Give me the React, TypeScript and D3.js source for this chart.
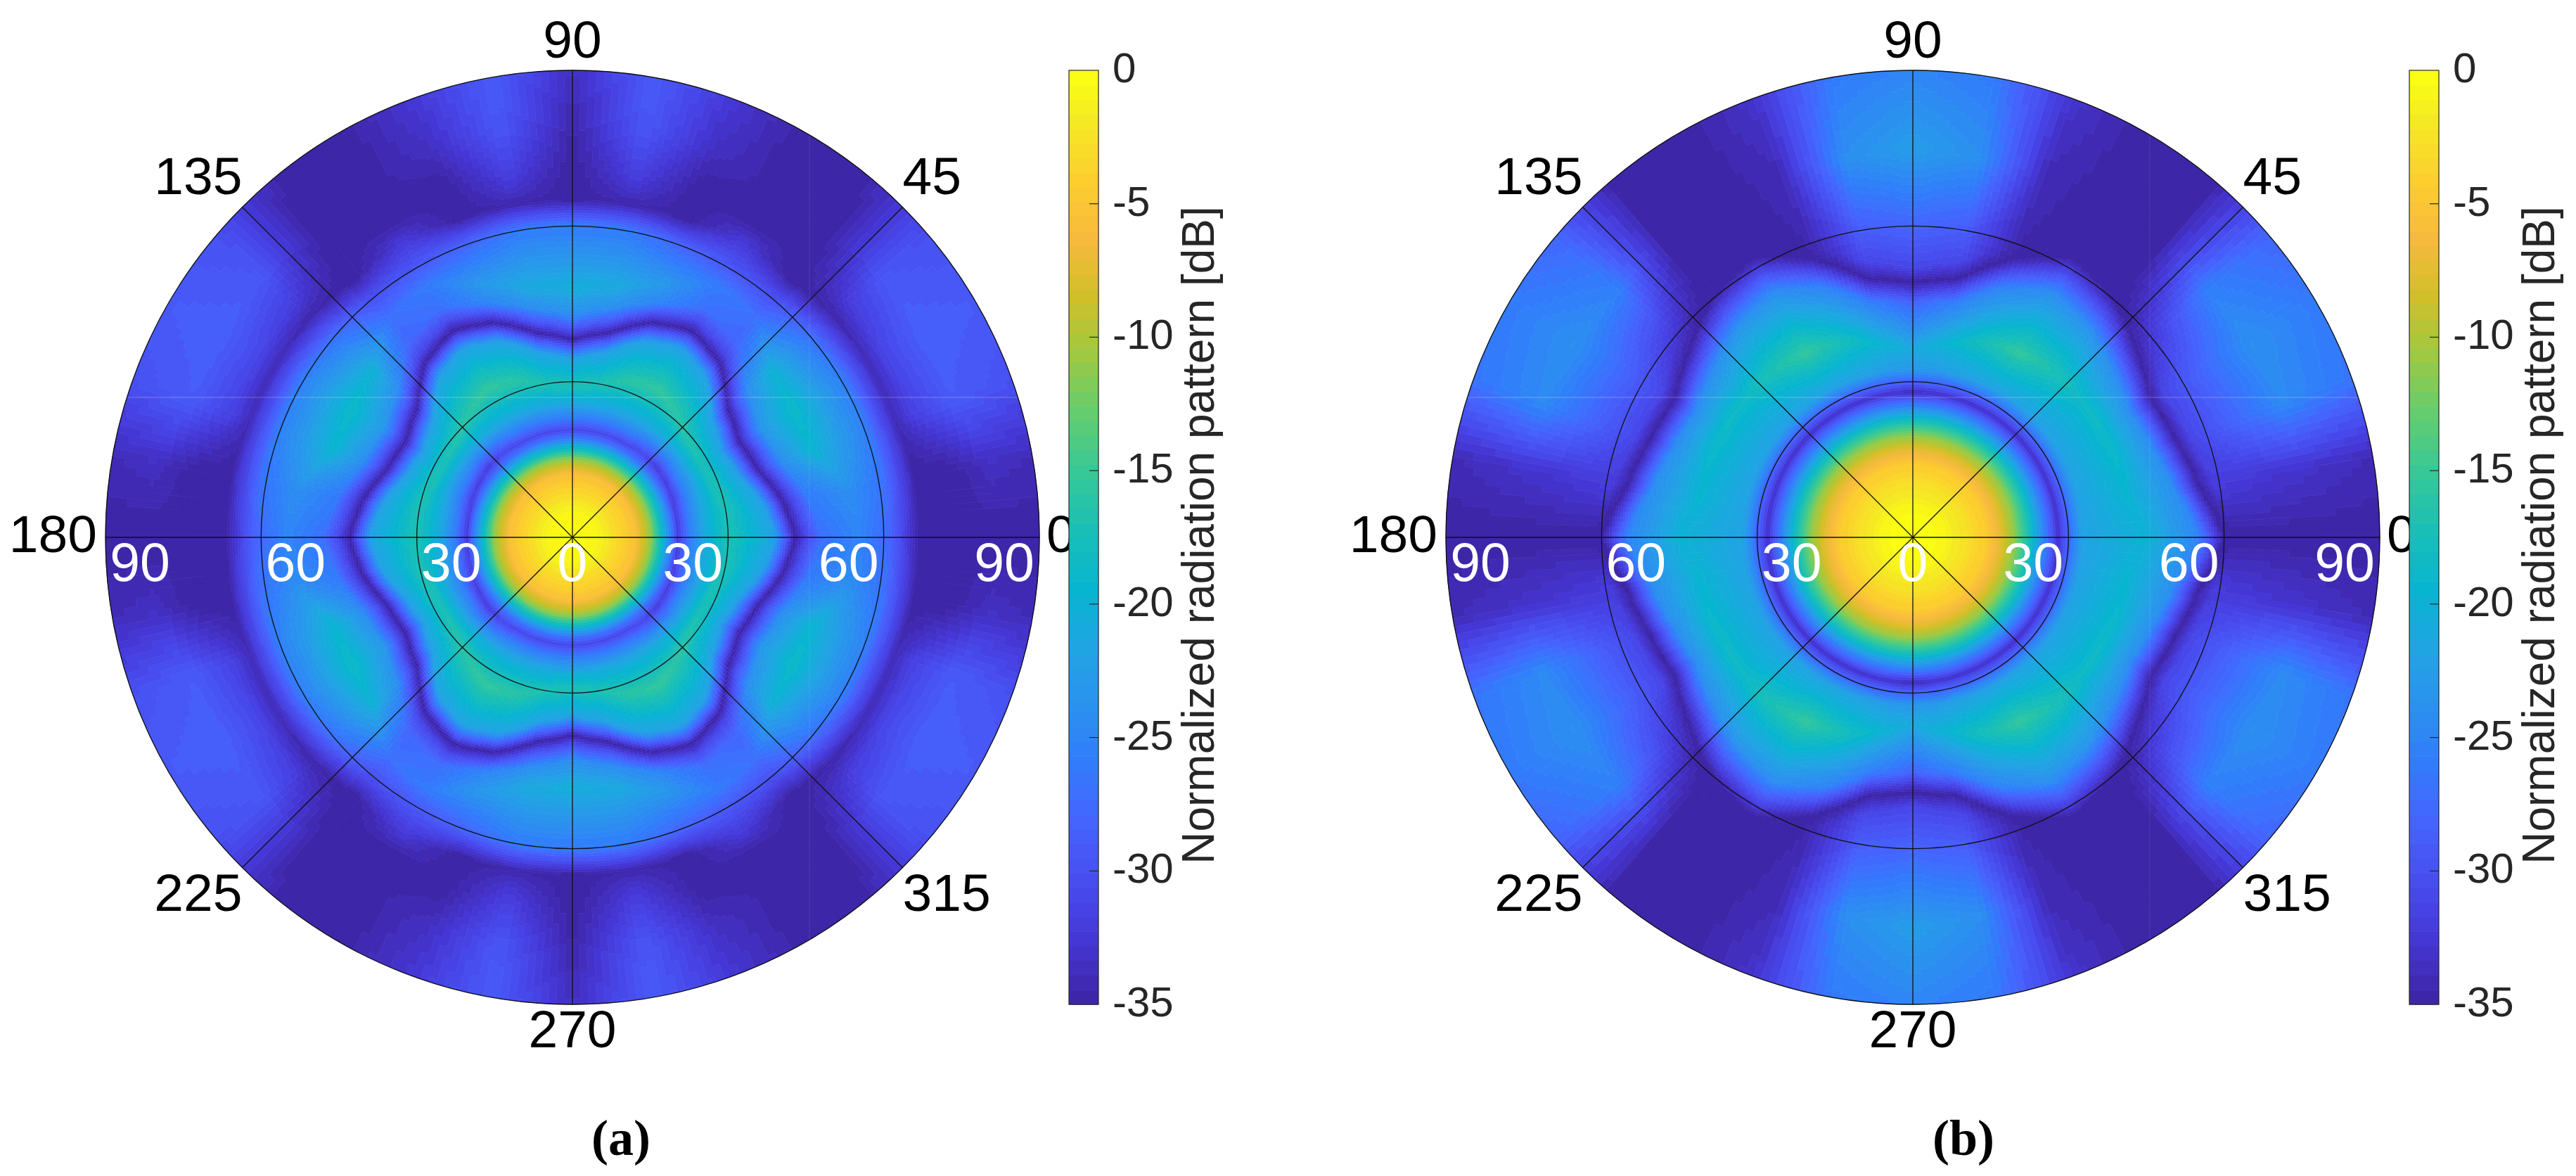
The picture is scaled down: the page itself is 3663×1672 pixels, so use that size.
import { useMemo } from "react"
import * as d3 from "d3"

// parula colormap
const colorPositions = [0, 4, 8, 12, 16, 20, 24, 28, 32, 36, 40, 44, 48, 52, 56, 60, 63]
const colorStops = [
  "#3e26a8", "#4537d5", "#484df0", "#4563fd", "#327cfc", "#2b91ef", "#20a5e3", "#08b5d0", "#19bfb6",
  "#37c897", "#64cd6f", "#9dc943", "#d1bf27", "#f8ba3d", "#fcce2e", "#f5e924", "#fbfd14",
]
const colorbarTicks = [0, -5, -10, -15, -20, -25, -30, -35]
const spokeAngles = [0, 45, 90, 135, 180, 225, 270, 315]
const ringDegrees = [30, 60, 90]
const radialLabels = [90, 60, 30, 0, 30, 60, 90]

// first quadrant, each row is one azimuth, the columns follow the same lobe/null across rows
const sampleAngles = [0, 10, 20, 30, 40, 50, 60, 70, 80, 90]

const radiiA = [
  [0, 5, 12, 15, 17.5, 19.2, 20.3, 22.5, 25.5, 30, 39, 41.5, 43, 45, 48, 55, 61, 67, 74, 80, 90],
  [0, 5, 12, 15, 17.5, 19.2, 20.3, 22.5, 25.5, 30, 37, 39.5, 41, 43, 46, 54, 61, 67, 74, 82, 90],
  [0, 5, 12, 15, 17.5, 19.2, 20.5, 23, 26, 29, 34, 36.5, 38, 40, 43, 49, 60, 66, 70, 78, 90],
  [0, 5, 12, 15, 17.5, 19.2, 20.8, 23, 26, 28.5, 33, 35.5, 37, 39, 42, 49, 60, 66, 70, 78, 90],
  [0, 5, 12, 15, 17.5, 19.2, 21, 23.5, 26, 29, 35, 37.5, 39, 41, 44, 50, 60, 66, 70, 78, 90],
  [0, 5, 12, 15, 17.5, 19.2, 21, 23.5, 26, 31, 40, 42.5, 44, 46, 49, 55, 60, 65, 72, 80, 90],
  [0, 5, 12, 15, 17.5, 19.2, 20.8, 23, 26, 33, 42, 44.5, 46, 48, 51, 56, 61, 66, 70, 76, 90],
  [0, 5, 12, 15, 17.5, 19.2, 20.8, 23, 26, 32, 40, 42.5, 44, 46, 48, 52, 60, 65, 72, 80, 90],
  [0, 5, 12, 15, 17.5, 19.2, 20.8, 23, 26, 30, 36, 38.5, 40, 42, 45, 49, 60, 65, 70, 80, 90],
  [0, 5, 12, 15, 17.5, 19.2, 20.8, 23, 26, 29, 34, 36.5, 38, 40, 43, 48, 60, 65, 72, 80, 90],
]
const levelsA = [
  [0, -1, -5.5, -11, -20, -27, -32, -26, -21, -17, -22, -30, -35, -31, -27, -25, -28, -35, -35, -35, -35],
  [0, -1, -5.5, -11, -20, -27, -32, -26, -21, -17, -22, -30, -35, -31, -26, -24, -27, -35, -35, -33.5, -34],
  [0, -1, -5.5, -11, -20, -27, -32, -26, -21, -17, -22, -30, -35, -30, -24, -19.5, -25.5, -34, -31.5, -29, -30],
  [0, -1, -5.5, -11, -20, -27, -32, -26, -21, -17, -22, -30, -35, -30, -23, -18.5, -25.5, -34, -31, -28.5, -29],
  [0, -1, -5.5, -11, -20, -27, -32, -26, -21, -16.5, -22, -30, -35, -30, -24, -20, -27, -34.5, -32, -29.5, -30],
  [0, -1, -5.5, -11, -20, -27, -31, -26, -21, -16, -22, -30, -35, -31, -28, -27, -30, -35, -35, -35, -34.5],
  [0, -1, -5.5, -11, -20, -27, -31, -26, -21, -15.5, -22, -30, -35, -31, -27, -26, -30, -32.5, -35, -35, -35],
  [0, -1, -5.5, -11, -20, -27, -31, -26, -21, -16, -22, -30, -35, -30, -25, -23, -28, -35, -35, -33.5, -32.5],
  [0, -1, -5.5, -11, -20, -27, -31, -26, -21, -17, -22, -30, -35, -30, -24, -21, -26, -34.5, -32, -29.5, -29],
  [0, -1, -5.5, -11, -20, -27, -31, -26, -21, -17, -21.5, -29, -35, -30, -24, -20.5, -26, -35, -35, -34.5, -33.5],
]

const radiiB = [
  [0, 5, 10, 14, 17, 20, 23, 25.5, 28, 30, 32.5, 45, 55, 60, 63, 75, 90],
  [0, 5, 10, 14, 17, 20, 23, 25.5, 28, 30, 32.5, 42, 51, 56, 59, 75, 90],
  [0, 5, 10, 14, 17, 20, 23, 25.5, 28, 30, 32.5, 42, 49, 54, 57, 76, 90],
  [0, 5, 10, 14, 17, 20, 23, 25.5, 28, 30, 32.5, 42, 48, 53, 56, 75, 90],
  [0, 5, 10, 14, 17, 20, 23, 25.5, 28, 30, 32.5, 42, 50, 56, 59, 74, 90],
  [0, 5, 10, 14, 17, 20, 23, 25.5, 28, 30, 32.5, 42, 52, 60, 63, 75, 90],
  [0, 5, 10, 14, 17, 20, 23, 25.5, 28, 30, 32.5, 41, 54, 62, 65, 75, 90],
  [0, 5, 10, 14, 17, 20, 23, 25.5, 28, 30, 32.5, 40, 51, 57, 60, 75, 90],
  [0, 5, 10, 14, 17, 20, 23, 25.5, 28, 30, 32.5, 38, 46, 50.5, 54, 74, 90],
  [0, 5, 10, 14, 17, 20, 23, 25.5, 28, 30, 32.5, 36, 45, 49, 52, 75, 90],
]
const levelsB = [
  [0, -0.6, -2.5, -4.5, -7.5, -12, -19, -26, -33, -28, -22, -20, -25, -35, -35, -35, -35],
  [0, -0.6, -2.5, -4.5, -7.5, -12, -19, -26, -33, -28, -22, -19.5, -24, -35, -32, -33, -34],
  [0, -0.6, -2.5, -4.5, -7.5, -12, -19, -26, -33, -28, -22, -19, -24, -35, -31, -24.5, -26.5],
  [0, -0.6, -2.5, -4.5, -7.5, -12, -19, -26, -33, -28, -22, -18.5, -24, -35, -31, -24, -26],
  [0, -0.6, -2.5, -4.5, -7.5, -12, -19, -26, -33, -28, -22, -18.5, -24, -35, -33, -25.5, -28],
  [0, -0.6, -2.5, -4.5, -7.5, -12, -19, -26, -33, -28, -22, -17, -23, -35, -35, -35, -35],
  [0, -0.6, -2.5, -4.5, -7.5, -12, -19, -26, -33, -28, -22, -15.5, -24, -35, -35, -35, -35],
  [0, -0.6, -2.5, -4.5, -7.5, -12, -19, -26, -33, -28, -22, -17.5, -25, -35, -34.5, -34, -33],
  [0, -0.6, -2.5, -4.5, -7.5, -12, -19, -26, -33, -28, -22.5, -19.5, -26, -35, -31, -24, -26],
  [0, -0.6, -2.5, -4.5, -7.5, -12, -19, -26, -34, -28, -23, -21, -28, -35, -31, -22.5, -25],
]

const FONT = "'Liberation Sans', Helvetica, Arial, sans-serif"
const cy = 764
const outerRadius = 664
const barTop = 100
const barBottom = 1428

const r = d3.scaleLinear().domain([0, 90]).range([0, outerRadius])
const stopScale = d3
  .scaleLinear<string>()
  .domain(colorPositions)
  .range(colorStops)
  .interpolate(d3.interpolateRgb)
const palette = d3.range(64).map((i) => stopScale(i))
const colorIndex = d3.scaleQuantize<number>().domain([-35, 0]).range(d3.range(64))
const barY = d3.scaleLinear().domain([-35, 0]).range([barBottom, barTop])
const arc = d3.arc().digits(1)

const rad = (deg) => (deg * Math.PI) / 180
// math angle (ccw from +x) to the point, d3 measures clockwise from 12 o'clock
const polar = (deg, radius) => d3.pointRadial(rad(90 - deg), radius)

function buildCells(radii, levels) {
  const knots = d3.range(radii[0].length)
  const radiusAt = knots.map((k) => d3.scaleLinear().domain(sampleAngles).range(radii.map((row) => row[k])))
  const levelAt = knots.map((k) => d3.scaleLinear().domain(sampleAngles).range(levels.map((row) => row[k])))
  const paths = d3.range(64).map(() => [])

  d3.range(0, 360).forEach((deg) => {
    const t = (deg + 0.5) % 180
    const folded = t > 90 ? 180 - t : t
    const profile = d3
      .scaleLinear()
      .domain(radiusAt.map((s) => s(folded)))
      .range(levelAt.map((s) => s(folded)))
    let start = 0
    let current = colorIndex(profile(0.25))
    for (let d = 0.5; d <= 90; d += 0.5) {
      const next = d < 90 ? colorIndex(profile(d + 0.25)) : -1
      if (next !== current) {
        paths[current].push(
          arc({
            innerRadius: r(start),
            outerRadius: r(d),
            startAngle: rad(90 - deg - 1),
            endAngle: rad(90 - deg),
          }),
        )
        start = d
        current = next
      }
    }
  })
  return paths.map((p) => p.join(""))
}

function Panel({ cx, radii, levels, id, caption, captionX }) {
  const cells = useMemo(() => buildCells(radii, levels), [radii, levels])
  const barX = cx + 706
  const barW = 42

  return (
    <g>
      <clipPath id={id}>
        <circle cx={cx} cy={cy} r={outerRadius} />
      </clipPath>
      <g transform={`translate(${cx},${cy})`}>
        {cells.map((d, i) => (
          <path key={i} d={d} fill={palette[i]} stroke={palette[i]} strokeWidth={0.7} />
        ))}
      </g>

      {/* faint tile seams from the source image */}
      <g clipPath={`url(#${id})`}>
        <line x1={cx - outerRadius} x2={cx + outerRadius} y1={565} y2={565} stroke="#fff" strokeOpacity={0.28} />
        <line x1={cx + 337} x2={cx + 337} y1={cy - outerRadius} y2={cy + outerRadius} stroke="#fff" strokeOpacity={0.1} />
      </g>

      {spokeAngles.map((a) => {
        const [x, y] = polar(a, outerRadius)
        return <line key={a} x1={cx} y1={cy} x2={cx + x} y2={cy + y} stroke="#111" strokeWidth={1.3} />
      })}
      {ringDegrees.map((d) => (
        <circle key={d} cx={cx} cy={cy} r={r(d)} fill="none" stroke="#111" strokeWidth={1.3} />
      ))}

      {spokeAngles.map((a) => {
        const [x, y] = polar(a, outerRadius)
        const side = Math.round(x)
        const anchor = side > 1 ? "start" : side < -1 ? "end" : "middle"
        let tx = cx + x
        let ty = cy + y + (y > 1 ? 61 : -18)
        if (a === 0) {
          tx += 10
          ty = cy + 21
        }
        if (a === 180) {
          tx -= 12
          ty = cy + 21
        }
        return (
          <text key={a} x={tx} y={ty} textAnchor={anchor} fontFamily={FONT} fontSize={75} fill="#000">
            {a}
          </text>
        )
      })}

      {radialLabels.map((d, i) => {
        const left = i < 3
        const x = i === 3 ? cx : left ? cx - r(d) + 49 : cx + r(d) - 50
        return (
          <text key={i} x={x} y={826} textAnchor="middle" fontFamily={FONT} fontSize={77} fill="#fff">
            {d}
          </text>
        )
      })}

      {/* colorbar */}
      {palette.map((c, i) => (
        <rect
          key={i}
          x={barX}
          y={barY(-35 + ((i + 1) * 35) / 64)}
          width={barW}
          height={(barBottom - barTop) / 64 + 0.6}
          fill={c}
        />
      ))}
      <rect x={barX} y={barTop} width={barW} height={barBottom - barTop} fill="none" stroke="#262626" strokeWidth={1.2} />
      {colorbarTicks.map((t) => (
        <g key={t}>
          {t !== 0 && t !== -35 && (
            <line x1={barX + barW - 13} x2={barX + barW} y1={barY(t)} y2={barY(t)} stroke="#262626" strokeWidth={1.2} />
          )}
          <text x={barX + 62} y={barY(t) + 17} fontFamily={FONT} fontSize={60} fill="#262626">
            {t}
          </text>
        </g>
      ))}
      <text
        transform={`translate(${barX + 206},761) rotate(-90)`}
        textAnchor="middle"
        fontFamily={FONT}
        fontSize={64}
        fill="#262626"
      >
        Normalized radiation pattern [dB]
      </text>

      <text
        x={captionX}
        y={1642}
        textAnchor="middle"
        fontFamily="'Liberation Serif', 'Times New Roman', serif"
        fontWeight="bold"
        fontSize={72}
        fill="#000"
      >
        {caption}
      </text>
    </g>
  )
}

export default function App() {
  return (
    <svg
      width={3663}
      height={1672}
      style={{ position: "absolute", left: 0, top: 0, display: "block", background: "#fff" }}
    >
      <Panel cx={814} radii={radiiA} levels={levelsA} id="clip-a" caption="(a)" captionX={883} />
      <Panel cx={2720} radii={radiiB} levels={levelsB} id="clip-b" caption="(b)" captionX={2792} />
    </svg>
  )
}
